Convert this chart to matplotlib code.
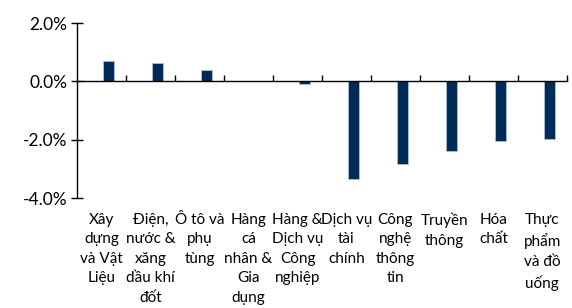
import matplotlib
matplotlib.use("Agg")
import matplotlib.pyplot as plt
import matplotlib.transforms as mtransforms
from matplotlib.ticker import FuncFormatter

# Sector names (already wrapped as in the chart)
sectors = ["Xây\ndựng\nvà Vật\nLiệu",
           "Điện,\nnước &\nxăng\ndầu khí\nđốt",
           "Ô tô và\nphụ\ntùng",
           "Hàng\ncá\nnhân &\nGia\ndụng",
           "Hàng &\nDịch vụ\nCông\nnghiệp",
           "Dịch vụ\ntài\nchính",
           "Công\nnghệ\nthông\ntin",
           "Truyền\nthông",
           "Hóa\nchất",
           "Thực\nphẩm\nvà đồ\nuống"]
# % change
change = [0.69, 0.63, 0.39, 0.03, -0.09, -3.34, -2.84, -2.37, -2.04, -1.96]
yticks = [2.0, 0.0, -2.0, -4.0]

plt.rcParams['font.family'] = ['Lato', 'DejaVu Sans']

fig = plt.figure(figsize=(5.72, 3.08), dpi=100)
ax = fig.add_axes([0.135, 0.357, 0.856, 0.568])

x = list(range(len(sectors)))
xb = [i + 0.14 for i in x]
ax.bar(xb, change, width=0.22, color='#002b57', edgecolor='#a9c1dc', linewidth=0.6)

ax.set_xlim(-0.5, len(sectors) - 0.5)
ax.set_ylim(-4.0, 2.0)
ax.set_yticks(yticks)
ax.yaxis.set_major_formatter(FuncFormatter(lambda v, p: f"{v:.1f}%"))
ax.tick_params(axis='y', direction='inout', length=8, width=1, labelsize=12.5, pad=3)

# x axis sits at zero, ticks at category boundaries pointing up
ax.spines['bottom'].set_position(('data', 0))
ax.spines['top'].set_visible(False)
ax.spines['right'].set_visible(False)
ax.spines['left'].set_linewidth(1)
ax.spines['bottom'].set_linewidth(1)
ax.set_xticks([i + 0.5 for i in x])
ax.set_xticklabels([])
ax.tick_params(axis='x', direction='in', length=4, width=1)

trans = mtransforms.blended_transform_factory(ax.transData, ax.transAxes)
for i, name in enumerate(sectors):
    ax.text(i, -0.085, name, transform=trans, ha='center', va='top',
            fontsize=11, linespacing=1.5, color='black')

fig.savefig("out.png", dpi=100)
